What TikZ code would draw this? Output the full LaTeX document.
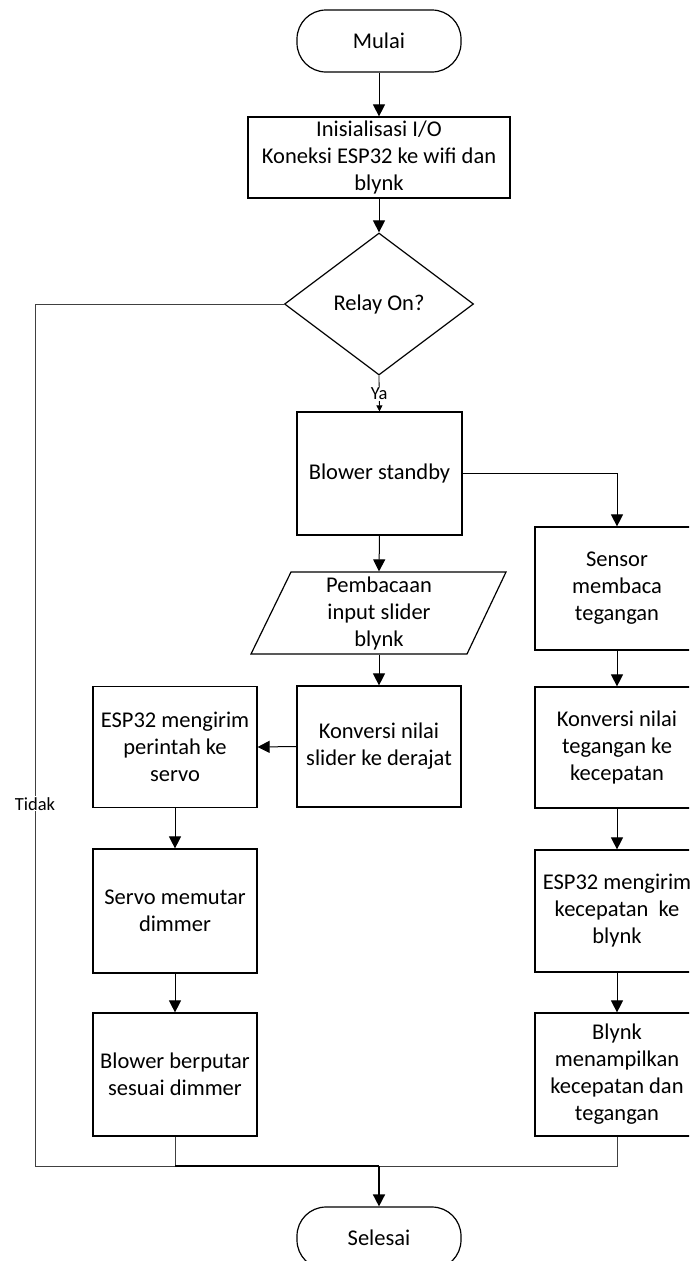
\documentclass[tikz,border=0pt]{standalone}
\usepackage{fontspec}
\setmainfont{Carlito}
\usetikzlibrary{arrows.meta,shapes.geometric}
\begin{document}
\begin{tikzpicture}[x=1pt,y=-1pt,
  base/.style={draw, line width=1.2pt, align=center, font=\fontsize{22.5}{27}\selectfont},
  box/.style={base, minimum width=164pt, inner sep=2pt},
  term/.style={box, rounded corners=29pt, minimum height=62pt},
  arr/.style={line width=1pt, -{Triangle[length=12pt,width=12pt]}},
  lbl/.style={font=\fontsize{18.5}{21}\selectfont, fill=white, inner sep=1pt},
  thinline/.style={line width=0.9pt, draw=black!75},
]
\useasboundingbox (0,0) rectangle (689,1261);
\clip (0,0) rectangle (689,1261);
\fill[white] (0,0) rectangle (689,1261);

\node[term] (start) at (379,41) {Mulai};
\node[box, minimum width=262pt, minimum height=81pt] (init) at (379,157.5) {Inisialisasi I/O\\Koneksi ESP32 ke wifi dan\\blynk};
\node[base, diamond, aspect=1.33, minimum width=189pt, minimum height=142pt, inner sep=0pt] (dec) at (379,304) {Relay On?};
\node[box, minimum width=165pt, minimum height=123pt] (standby) at (379.5,473.5) {Blower standby};
\node[base, draw=none, minimum width=176pt, minimum height=82pt, inner sep=0pt] (read) at (379,613) {Pembacaan\\input slider\\blynk};
\draw[line width=1.2pt] (251,654) -- (291,572) -- (506,572) -- (467,654) -- cycle;
\node[box, minimum height=121pt] (konv1) at (379,746.5) {Konversi nilai\\slider ke derajat};
\node[box, minimum height=121pt] (esp1) at (175,747) {ESP32 mengirim\\perintah ke\\servo};
\node[box, minimum height=124pt] (servo) at (175,911) {Servo memutar\\dimmer};
\node[box, minimum height=123pt] (blower) at (175,1074.5) {Blower berputar\\sesuai dimmer};
\node[box, minimum height=123pt] (sensor) at (617,588.5) {Sensor\\membaca\\tegangan};
\node[box, minimum height=121pt] (konv2) at (617,747.5) {Konversi nilai\\tegangan ke\\kecepatan};
\node[box, minimum height=122pt] (esp2) at (617,911) {ESP32 mengirim\\kecepatan\ \ ke\\blynk};
\node[box, minimum height=123pt] (blynk) at (617,1074.5) {Blynk\\menampilkan\\kecepatan dan\\tegangan};
\node[term] (end) at (379,1238) {Selesai};

\coordinate (lc) at (35,1166);
\coordinate (mc) at (175,1166);
\coordinate (jn) at (379,1166);
\coordinate (rc) at (617,1166);

\draw[arr] (start) -- (init);
\draw[arr] (init) -- (dec);
\draw[line width=0.8pt, -{Triangle[length=6pt,width=6pt]}] (dec.south) -- node[lbl] {Ya} (standby.north);
\draw[arr] (standby.east) -| (sensor.north);
\draw[arr] (standby.south) -- (read.north);
\draw[arr] (read.south) -- (konv1.north);
\draw[arr] (konv1.west) -- (esp1.east);
\draw[arr] (esp1) -- (servo);
\draw[arr] (servo) -- (blower);
\draw[arr] (sensor) -- (konv2);
\draw[arr] (konv2) -- (esp2);
\draw[arr] (esp2) -- (blynk);
\draw[thinline] (dec.west) -| node[lbl, pos=0.79] {Tidak} (lc) -- (mc);
\draw[thinline] (blower.south) -- (mc);
\draw[line width=1.6pt] (mc) -- (jn);
\draw[thinline] (blynk.south) -- (rc) -- (jn);
\draw[line width=1.6pt, -{Triangle[length=12pt,width=12pt]}] (jn) -- (end.north);
\end{tikzpicture}
\end{document}
